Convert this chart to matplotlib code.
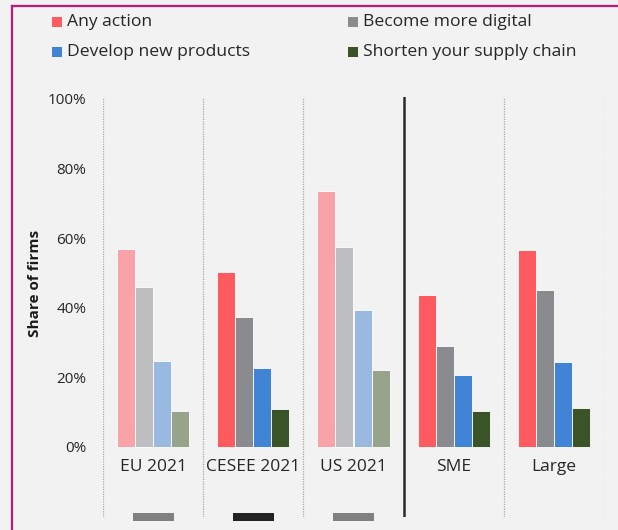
import matplotlib
matplotlib.use("Agg")
import matplotlib.pyplot as plt
from matplotlib.patches import Rectangle
from matplotlib.lines import Line2D
import numpy as np

plt.rcParams['font.family'] = ['Open Sans', 'DejaVu Sans']

groups = ["EU 2021", "CESEE 2021", "US 2021", "SME", "Large"]
series_names = ["Any action", "Become more digital", "Develop new products", "Shorten your supply chain"]
any_action = [56.8, 50.3, 73.6, 43.7, 56.6]
more_digital = [45.9, 37.4, 57.5, 28.9, 45.2]
new_products = [24.7, 22.5, 39.2, 20.7, 24.3]
supply_chain = [10.3, 10.7, 22.0, 10.3, 11.0]
muted_groups = [True, False, True, False, False]
yticks = [0, 20, 40, 60, 80, 100]
ytick_labels = ["0%", "20%", "40%", "60%", "80%", "100%"]
marker_groups = [0, 1, 2]
marker_colors = ["#808080", "#222222", "#808080"]

solid_colors = ["#ff5a5f", "#898b8e", "#4183d4", "#3a5428"]
light_colors = ["#f7a3a7", "#bdbec0", "#9ab9e0", "#97a38a"]
bg = "#f2f2f2"
txt = "#262626"

W, H = 618, 530
fig = plt.figure(figsize=(W / 100, H / 100), dpi=100, facecolor=bg)

# axes placement in pixels
x0, x1 = 103, 604
ytop, ybot = 97, 517
y_zero, y_hundred = 446.7, 99.0
ppu = (y_zero - y_hundred) / 100.0
ymin = -(ybot - y_zero) / ppu
ymax = 100 + (y_hundred - ytop) / ppu

ax = fig.add_axes([x0 / W, 1 - ybot / H, (x1 - x0) / W, (ybot - ytop) / H])
ax.set_facecolor(bg)
ax.set_xlim(-0.5, len(groups) - 0.5)
ax.set_ylim(ymin, ymax)
for s in ax.spines.values():
    s.set_visible(False)

series = [any_action, more_digital, new_products, supply_chain]
bw = 0.18
offsets = [-0.27, -0.09, 0.09, 0.27]
x = np.arange(len(groups))
for si, vals in enumerate(series):
    cols = [light_colors[si] if m else solid_colors[si] for m in muted_groups]
    ax.bar(x + offsets[si], vals, width=bw, color=cols,
           edgecolor="#ffffff", linewidth=0.6, zorder=3)

# separators
for b in [-0.5, 0.5, 1.5, 3.5, 4.5]:
    ax.axvline(b, color="#a8a8a8", lw=0.9, ls=(0, (1, 1)), zorder=1)
ax.axvline(2.5, color="#2b2b2b", lw=1.8, zorder=4)

ax.set_yticks(yticks)
ax.set_yticklabels(ytick_labels)
ax.tick_params(axis='y', length=0, pad=12, labelsize=11, labelcolor=txt)
ax.set_xticks([])

# group labels
lab_y = (ybot - 467) / (ybot - ytop)
for i, g in enumerate(groups):
    ax.text(i, lab_y, g, transform=ax.get_xaxis_transform(), ha="center",
            va="center", fontsize=12.5, color=txt)

# small markers below groups
for gi, c in zip(marker_groups, marker_colors):
    yb = (ybot - 521) / (ybot - ytop)
    hh = 8 / (ybot - ytop)
    ax.add_patch(Rectangle((gi - 0.205, yb), 0.41, hh, transform=ax.get_xaxis_transform(),
                           facecolor=c, edgecolor="none", clip_on=False, zorder=5))

# y label
fig.text(35 / W, 1 - 283 / H, "Share of firms", rotation=90, ha="center", va="center",
         fontsize=11, fontweight="bold", color="#1a1a1a")

# legend
leg_pos = [(52, 22), (348, 22), (52, 52), (348, 52)]
leg_order = [0, 1, 2, 3]
for (lx, ly), si in zip(leg_pos, leg_order):
    fig.patches.append(Rectangle((lx / W, 1 - (ly + 5) / H), 10 / W, 10 / H,
                                 transform=fig.transFigure, facecolor=solid_colors[si],
                                 edgecolor="none"))
    fig.text((lx + 15) / W, 1 - ly / H, series_names[si], ha="left", va="center",
             fontsize=12.6, color=txt)

# border (left and top only)
fig.add_artist(Line2D([12 / W, 12 / W], [0, 1 - 6 / H], color="#c01878", lw=1.6,
                      transform=fig.transFigure))
fig.add_artist(Line2D([12 / W, 1], [1 - 6 / H, 1 - 6 / H], color="#c01878", lw=1.6,
                      transform=fig.transFigure))

fig.savefig("out.png", dpi=100, facecolor=bg)
